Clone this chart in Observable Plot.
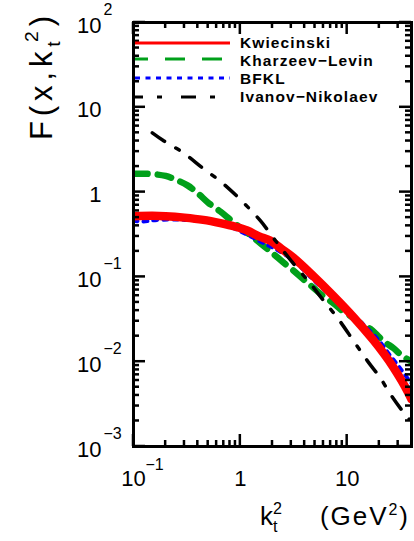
<!DOCTYPE html>
<html>
<head>
<meta charset="utf-8">
<script src="https://cdn.jsdelivr.net/npm/d3@7"></script>
<script src="https://cdn.jsdelivr.net/npm/@observablehq/plot@0.6"></script>
<style>
  body { margin: 0; background: #fff; }
  #chart svg { display: block; }
</style>
</head>
<body>
<div id="chart"></div>
<script>
// Unintegrated gluon distributions F(x, k_t^2) versus k_t^2 (GeV^2)

// Kwiecinski
const ktKw = [0.1, 0.15, 0.2, 0.3, 0.45, 0.65, 0.9, 1.16, 1.5, 1.9, 2.4, 3.13, 4.8, 7.4, 11.4, 17.5, 22, 26.9, 32, 37, 40];
const fKw  = [0.52, 0.525, 0.52, 0.50, 0.47, 0.43, 0.39, 0.352, 0.30, 0.268, 0.216, 0.169, 0.103, 0.060, 0.0338, 0.0181, 0.0125, 0.0087, 0.0061, 0.0044, 0.0036];

// Kharzeev-Levin
const ktKL = [0.1, 0.15, 0.2, 0.25, 0.32, 0.4, 0.5, 0.65, 0.81, 1.0, 1.24, 1.6, 2.0, 2.5, 3.13, 4.0, 4.8, 6.0, 7.4, 9.0, 11.4, 13.5, 16.4, 19.5, 22.6, 27, 32.6, 40];
const fKL  = [1.65, 1.63, 1.55, 1.4, 1.2, 0.97, 0.75, 0.59, 0.47, 0.38, 0.31, 0.24, 0.19, 0.15, 0.119, 0.091, 0.075, 0.059, 0.049, 0.040, 0.033, 0.028, 0.0245, 0.020, 0.017, 0.0145, 0.0118, 0.0100];

// BFKL
const ktBF = [0.1, 0.124, 0.15, 0.22, 0.3, 0.4, 0.525, 0.65, 0.81, 1.0, 1.32, 1.6, 2.03, 2.5, 3.13, 4.0, 4.8, 6.0, 8.0, 10, 13.2, 17.5, 21, 25, 31, 37, 40];
const fBF  = [0.46, 0.45, 0.465, 0.475, 0.47, 0.46, 0.44, 0.415, 0.39, 0.345, 0.29, 0.255, 0.22, 0.19, 0.156, 0.118, 0.093, 0.072, 0.052, 0.041, 0.030, 0.021, 0.0162, 0.012, 0.0085, 0.0063, 0.0056];

// Ivanov-Nikolaev
const ktIN = [0.15, 0.19, 0.29, 0.45, 0.69, 1.07, 1.54, 2.12, 3.13, 4.5, 6.2, 8.1, 11.4, 15.4, 20.3, 25.2, 32.6, 38];
const fIN  = [5.0, 4.06, 2.93, 1.9, 1.26, 0.75, 0.46, 0.27, 0.144, 0.084, 0.050, 0.033, 0.0178, 0.0103, 0.0065, 0.0042, 0.00266, 0.0021];

// Axis ticks and labels
const xMajor = [0.1, 1, 10];
const xBase  = ["10", "1", "10"];
const xExp   = ["\u22121", "", ""];
const xMinor = [0.2, 0.3, 0.4, 0.5, 0.6, 0.7, 0.8, 0.9, 2, 3, 4, 5, 6, 7, 8, 9, 20, 30];
const yMajor = [1e-3, 1e-2, 1e-1, 1, 10, 100];
const yBase  = ["10", "10", "10", "1", "10", "10"];
const yExp   = ["\u22123", "\u22122", "\u22121", "", "", "2"];
const yMinor = [1e-3, 1e-2, 1e-1, 1, 10].flatMap(d => [2, 3, 4, 5, 6, 7, 8, 9].map(m => +(m * d).toPrecision(3)));

const models = ["Kwiecinski", "Kharzeev\u2212Levin", "BFKL", "Ivanov\u2212Nikolaev"];

const rows = (kt, f) => kt.map((k, i) => ({kt: k, f: f[i]}));

const W = 414, H = 541;
const mL = 133, mR = 3, mT = 22, mB = 95;
const majorLen = 12, minorLen = 6;
const font = "'Liberation Sans', Arial, Helvetica, sans-serif";

const chart = Plot.plot({
  width: W,
  height: H,
  marginLeft: mL,
  marginRight: mR,
  marginTop: mT,
  marginBottom: mB,
  style: {fontFamily: font, background: "white", color: "black"},
  x: {type: "log", domain: [0.1, 40], axis: null},
  y: {type: "log", domain: [1e-3, 1e2], axis: null},
  marks: [
    Plot.line(rows(ktKL, fKL), {x: "kt", y: "f", stroke: "#00a01a", strokeWidth: 6.5, strokeDasharray: "14,10", curve: "catmull-rom", clip: true}),
    Plot.line(rows(ktBF, fBF), {x: "kt", y: "f", stroke: "#0000ff", strokeWidth: 4, strokeDasharray: "4,6", curve: "catmull-rom", clip: true}),
    Plot.line(rows(ktKw, fKw), {x: "kt", y: "f", stroke: "#ff0000", strokeWidth: 8.5, curve: "catmull-rom", clip: true}),
    Plot.line(rows(ktIN, fIN), {x: "kt", y: "f", stroke: "black", strokeWidth: 3.5, strokeDasharray: "15,13,4,13", curve: "catmull-rom", clip: true}),

    Plot.frame({stroke: "black", strokeWidth: 3}),

    // tick labels: base and raised exponent
    Plot.text(xMajor, {x: d => d, text: (d, i) => xBase[i], frameAnchor: "bottom", dy: 39, fontSize: 22, fill: "black"}),
    Plot.text(xMajor, {x: d => d, text: (d, i) => xExp[i], frameAnchor: "bottom", dy: 23, dx: 12, textAnchor: "start", fontSize: 16, fill: "black"}),
    Plot.text(yMajor, {y: d => d, text: (d, i) => yBase[i], frameAnchor: "left", dx: -32, dy: 3, textAnchor: "end", fontSize: 22, fill: "black"}),
    Plot.text(yMajor, {y: d => d, text: (d, i) => yExp[i], frameAnchor: "left", dx: -30, dy: -13, textAnchor: "start", fontSize: 16, fill: "black"})
  ]
});

document.getElementById("chart").appendChild(chart);

const svg = d3.select(chart);

// inward ticks on all four sides, placed with the chart's own scales
const sx = chart.scale("x"), sy = chart.scale("y");
const fx = v => sx.apply(v);
const fy = v => sy.apply(v);
const frameL = mL, frameR = W - mR, frameT = mT, frameB = H - mB;
const tickG = svg.append("g");
const seg = (a, b, c, d) => tickG.append("line")
  .attr("x1", a).attr("y1", b).attr("x2", c).attr("y2", d)
  .attr("stroke", "black").attr("stroke-width", 2.5);
[[xMajor, majorLen], [xMinor, minorLen]].forEach(([vals, len]) => {
  vals.forEach(v => {
    const px = fx(v);
    seg(px, frameB, px, frameB - len);
    seg(px, frameT, px, frameT + len);
  });
});
[[yMajor, majorLen], [yMinor, minorLen]].forEach(([vals, len]) => {
  vals.forEach(v => {
    const py = fy(v);
    seg(frameL, py, frameL + len, py);
    seg(frameR, py, frameR - len, py);
  });
});

// k_t with subscript t and superscript 2 stacked above it
function kt2(text, size) {
  const s = size * 0.62;
  text.append("tspan").text("k");
  text.append("tspan").attr("font-size", s).attr("dy", size * 0.27).text("t");
  text.append("tspan").attr("font-size", s).attr("dx", -s * 0.28).attr("dy", -size * 0.71).text("2");
  return size * 0.44;
}

// x title: "k_t^2" and "(GeV^2)"
const xk = svg.append("text")
  .attr("x", 260).attr("y", 525)
  .attr("text-anchor", "start")
  .attr("font-family", font).attr("font-size", 26).attr("fill", "black");
kt2(xk, 26);

const xu = svg.append("text")
  .attr("x", 408).attr("y", 525)
  .attr("text-anchor", "end")
  .attr("font-family", font).attr("font-size", 26).attr("fill", "black")
  .attr("textLength", 88).attr("lengthAdjust", "spacing");
xu.append("tspan").text("(GeV");
xu.append("tspan").attr("font-size", 16).attr("dy", -10).text("2");
xu.append("tspan").attr("dy", 10).text(")");

// y title
const yt = svg.append("text")
  .attr("transform", "translate(52,16) rotate(-90)")
  .attr("text-anchor", "end")
  .attr("font-family", font).attr("font-size", 31).attr("fill", "black")
  .attr("textLength", 124).attr("lengthAdjust", "spacing");
yt.append("tspan").text("F(x,");
const back = kt2(yt, 31);
yt.append("tspan").attr("dy", back).text(")");

// legend
const legend = [
  {name: models[0], color: "#ff0000", dash: null, offset: 0, y: 43, ty: 42},
  {name: models[1], color: "#00a01a", dash: "20,17", offset: 7, y: 59, ty: 60},
  {name: models[2], color: "#0000ff", dash: "5,5.5", offset: 0, y: 78, ty: 78},
  {name: models[3], color: "black", dash: "15,14,5,19", offset: 7, y: 97, ty: 96}
];
const lg = svg.append("g");
legend.forEach(d => {
  lg.append("line")
    .attr("x1", 135).attr("x2", 230).attr("y1", d.y).attr("y2", d.y)
    .attr("stroke", d.color).attr("stroke-width", 3)
    .attr("stroke-dasharray", d.dash).attr("stroke-dashoffset", d.offset);
  lg.append("text")
    .attr("x", 240).attr("y", d.ty).attr("dy", "0.36em")
    .attr("text-anchor", "start")
    .attr("font-family", font).attr("font-size", 15.5).attr("font-weight", "bold")
    .attr("letter-spacing", 1.1)
    .attr("fill", "black").text(d.name);
});
</script>
</body>
</html>
